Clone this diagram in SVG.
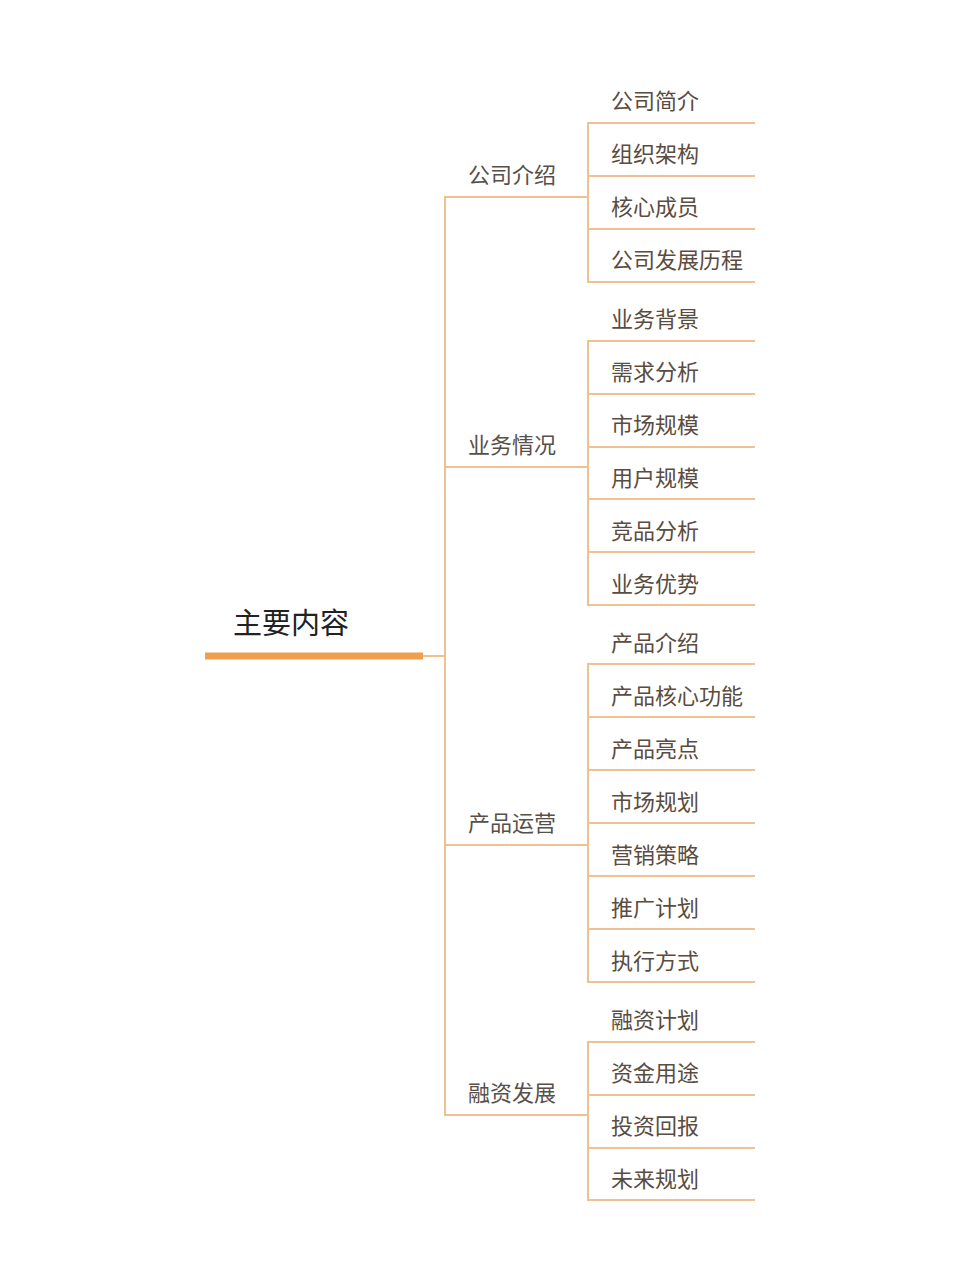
<svg xmlns="http://www.w3.org/2000/svg" width="960" height="1280" viewBox="0 0 960 1280">
<style>
.ln{stroke:#efc090;stroke-width:2;fill:none}
.leaf{font-family:"Noto Sans CJK SC","Noto Sans",sans-serif;font-size:22px;fill:#5a4c40}
.br{font-family:"Noto Sans CJK SC","Noto Sans",sans-serif;font-size:22px;fill:#57504a}
.root{font-family:"Noto Sans CJK SC","Noto Sans",sans-serif;font-size:29px;fill:#222}
</style>
<rect width="960" height="1280" fill="#fff"/>
<g id="connectors">
<line x1="205" y1="656" x2="423" y2="656" stroke="#eea04f" stroke-width="7"/>
<line class="ln" x1="423" y1="656" x2="445" y2="656"/>
<line class="ln" x1="445" y1="196" x2="445" y2="1116"/>
<line class="ln" x1="445" y1="197" x2="588" y2="197"/>
<line class="ln" x1="445" y1="467" x2="588" y2="467"/>
<line class="ln" x1="445" y1="845" x2="588" y2="845"/>
<line class="ln" x1="445" y1="1115" x2="588" y2="1115"/>
<line class="ln" x1="588" y1="122" x2="588" y2="283"/>
<line class="ln" x1="588" y1="340" x2="588" y2="606"/>
<line class="ln" x1="588" y1="663" x2="588" y2="983"/>
<line class="ln" x1="588" y1="1041" x2="588" y2="1201"/>
<path class="ln" d="M588 123H755M588 176H755M588 229H755M588 282H755"/>
<path class="ln" d="M588 341H755M588 394H755M588 447H755M588 499H755M588 552H755M588 605H755"/>
<path class="ln" d="M588 664H755M588 717H755M588 770H755M588 823H755M588 876H755M588 929H755M588 982H755"/>
<path class="ln" d="M588 1042H755M588 1095H755M588 1148H755M588 1200H755"/>
</g>
<g id="root"><text class="root" x="233" y="634">主要内容</text></g>
<g id="b1"><text class="br" x="468" y="183">公司介绍</text></g>
<g id="b2"><text class="br" x="468" y="453">业务情况</text></g>
<g id="b3"><text class="br" x="468" y="831">产品运营</text></g>
<g id="b4"><text class="br" x="468" y="1101">融资发展</text></g>
<g id="l1-1"><text class="leaf" x="611" y="109">公司简介</text></g>
<g id="l1-2"><text class="leaf" x="611" y="162">组织架构</text></g>
<g id="l1-3"><text class="leaf" x="611" y="215">核心成员</text></g>
<g id="l1-4"><text class="leaf" x="611" y="268">公司发展历程</text></g>
<g id="l2-1"><text class="leaf" x="611" y="327">业务背景</text></g>
<g id="l2-2"><text class="leaf" x="611" y="380">需求分析</text></g>
<g id="l2-3"><text class="leaf" x="611" y="433">市场规模</text></g>
<g id="l2-4"><text class="leaf" x="611" y="486">用户规模</text></g>
<g id="l2-5"><text class="leaf" x="611" y="539">竞品分析</text></g>
<g id="l2-6"><text class="leaf" x="611" y="592">业务优势</text></g>
<g id="l3-1"><text class="leaf" x="611" y="651">产品介绍</text></g>
<g id="l3-2"><text class="leaf" x="611" y="704">产品核心功能</text></g>
<g id="l3-3"><text class="leaf" x="611" y="757">产品亮点</text></g>
<g id="l3-4"><text class="leaf" x="611" y="810">市场规划</text></g>
<g id="l3-5"><text class="leaf" x="611" y="863">营销策略</text></g>
<g id="l3-6"><text class="leaf" x="611" y="916">推广计划</text></g>
<g id="l3-7"><text class="leaf" x="611" y="969">执行方式</text></g>
<g id="l4-1"><text class="leaf" x="611" y="1028">融资计划</text></g>
<g id="l4-2"><text class="leaf" x="611" y="1081">资金用途</text></g>
<g id="l4-3"><text class="leaf" x="611" y="1134">投资回报</text></g>
<g id="l4-4"><text class="leaf" x="611" y="1187">未来规划</text></g>
</svg>
